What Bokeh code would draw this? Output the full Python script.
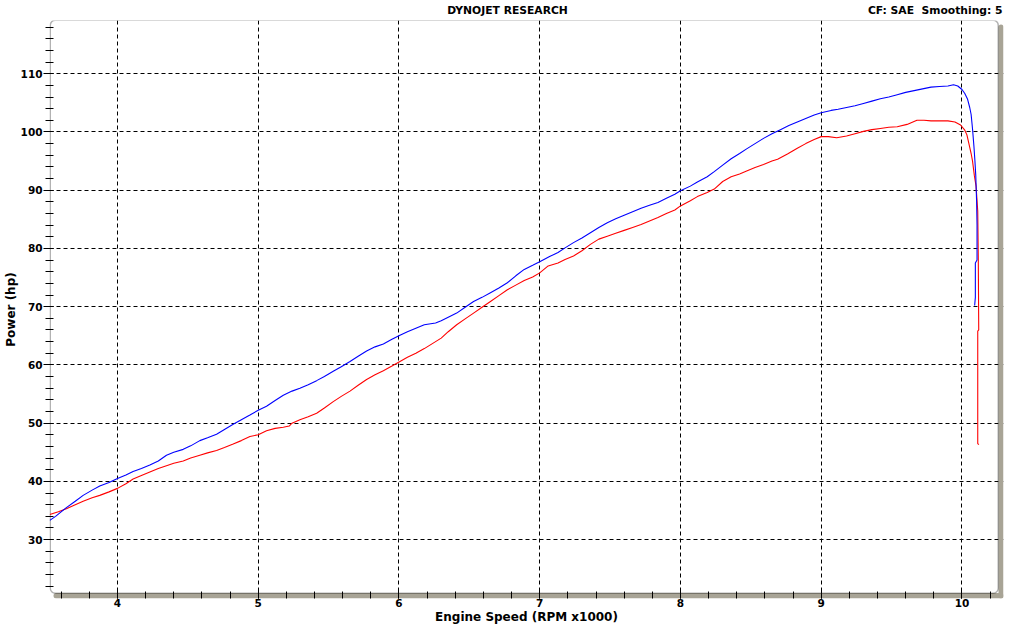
from bokeh.plotting import figure
from bokeh.models import (Range1d, SingleIntervalTicker, FixedTicker, BoxAnnotation,
                          ColumnDataSource, LinearAxis)
from bokeh.embed import file_html
from bokeh.resources import INLINE

# ---- data ----
blue_rpm = [3.519, 3.56, 3.637, 3.70, 3.756, 3.82, 3.874, 3.94, 4.0, 4.06, 4.111, 4.17, 4.23, 4.29,
            4.348, 4.40, 4.467, 4.52, 4.585, 4.64, 4.704, 4.76, 4.822, 4.88, 4.941, 5.0, 5.059, 5.12,
            5.178, 5.24, 5.296, 5.355, 5.415, 5.47, 5.533, 5.59, 5.652, 5.71, 5.77, 5.83, 5.889, 5.95,
            6.007, 6.06, 6.12, 6.18, 6.26, 6.30, 6.35, 6.41, 6.47, 6.53, 6.59, 6.65, 6.71, 6.77, 6.83,
            6.89, 6.95, 7.0, 7.07, 7.13, 7.18, 7.24, 7.30, 7.36, 7.42, 7.48, 7.54, 7.60, 7.66, 7.72,
            7.78, 7.84, 7.90, 7.96, 8.0, 8.07, 8.12, 8.19, 8.24, 8.30, 8.36, 8.42, 8.47, 8.53, 8.59,
            8.65, 8.71, 8.77, 8.83, 8.89, 8.95, 9.0, 9.07, 9.12, 9.18, 9.24, 9.30, 9.36, 9.42, 9.48,
            9.54, 9.60, 9.66, 9.72, 9.78, 9.84, 9.90, 9.94, 9.97, 10.0, 10.02, 10.04, 10.055, 10.065,
            10.075, 10.085, 10.092, 10.098, 10.104, 10.107, 10.107, 10.095, 10.095, 10.09]
blue_hp = [33.3, 34.0, 35.5, 36.6, 37.6, 38.5, 39.2, 39.8, 40.5, 41.1, 41.7, 42.2, 42.8, 43.5,
           44.5, 45.0, 45.5, 46.1, 47.0, 47.5, 48.1, 48.9, 49.8, 50.6, 51.4, 52.2, 52.9, 53.9,
           54.8, 55.5, 56.0, 56.6, 57.3, 58.0, 58.9, 59.7, 60.6, 61.5, 62.4, 63.1, 63.6, 64.4,
           65.1, 65.7, 66.3, 66.9, 67.2, 67.6, 68.2, 68.9, 69.9, 70.9, 71.6, 72.4, 73.2, 74.1, 75.3,
           76.4, 77.1, 77.7, 78.6, 79.3, 80.1, 81.0, 81.8, 82.7, 83.6, 84.4, 85.1, 85.7, 86.3, 86.9,
           87.4, 87.9, 88.6, 89.3, 89.9, 90.7, 91.4, 92.3, 93.2, 94.3, 95.4, 96.3, 97.1, 98.0, 98.9,
           99.7, 100.4, 101.1, 101.7, 102.3, 102.9, 103.3, 103.7, 103.9, 104.2, 104.5, 104.9, 105.3,
           105.7, 106.0, 106.4, 106.8, 107.1, 107.4, 107.7, 107.8, 107.9, 108.1, 107.9, 107.3, 106.6,
           105.6, 104.2, 103.0, 100.5, 97.5, 95.0, 92.5, 88.0, 84.0, 78.0, 77.5, 71.6, 70.2]

red_rpm = [3.519, 3.58, 3.637, 3.70, 3.756, 3.82, 3.874, 3.94, 4.0, 4.06, 4.111, 4.17, 4.23, 4.29,
           4.348, 4.40, 4.467, 4.52, 4.585, 4.64, 4.704, 4.76, 4.822, 4.88, 4.941, 5.0, 5.059, 5.12,
           5.178, 5.22, 5.24, 5.296, 5.355, 5.415, 5.47, 5.533, 5.59, 5.652, 5.71, 5.77, 5.83, 5.889,
           5.95, 6.007, 6.06, 6.12, 6.18, 6.24, 6.30, 6.35, 6.41, 6.47, 6.53, 6.59, 6.65, 6.71, 6.77,
           6.83, 6.89, 6.95, 7.0, 7.06, 7.13, 7.18, 7.24, 7.30, 7.36, 7.42, 7.48, 7.54, 7.60, 7.66,
           7.72, 7.78, 7.84, 7.90, 7.96, 8.0, 8.07, 8.12, 8.19, 8.24, 8.30, 8.36, 8.42, 8.47, 8.53,
           8.59, 8.65, 8.69, 8.76, 8.83, 8.89, 8.95, 9.0, 9.05, 9.11, 9.18, 9.24, 9.30, 9.36, 9.42,
           9.48, 9.54, 9.61, 9.68, 9.73, 9.78, 9.84, 9.90, 9.95, 9.99, 10.02, 10.035, 10.05, 10.065,
           10.075, 10.088, 10.10, 10.112, 10.116, 10.119, 10.112, 10.112, 10.12]
red_hp = [34.3, 34.8, 35.3, 36.0, 36.6, 37.2, 37.6, 38.2, 38.8, 39.6, 40.4, 41.0, 41.6, 42.2,
          42.7, 43.1, 43.5, 44.0, 44.5, 44.9, 45.3, 45.8, 46.4, 47.0, 47.7, 48.0, 48.7, 49.1,
          49.3, 49.5, 50.0, 50.6, 51.1, 51.7, 52.6, 53.7, 54.6, 55.5, 56.5, 57.5, 58.3, 59.0,
          59.8, 60.6, 61.3, 62.0, 62.8, 63.7, 64.6, 65.7, 66.9, 67.9, 68.9, 69.9, 70.9, 71.9, 72.9,
          73.7, 74.5, 75.1, 75.8, 77.0, 77.5, 78.1, 78.7, 79.6, 80.7, 81.6, 82.1, 82.6, 83.1, 83.6,
          84.1, 84.7, 85.3, 86.0, 86.6, 87.3, 88.2, 88.9, 89.6, 90.2, 91.5, 92.3, 92.8, 93.3, 93.9,
          94.4, 95.0, 95.3, 96.2, 97.2, 98.0, 98.7, 99.2, 99.2, 99.0, 99.3, 99.7, 100.1, 100.4, 100.6,
          100.8, 100.9, 101.3, 102.0, 102.0, 101.9, 101.9, 101.9, 101.7, 101.2, 100.3, 99.5, 97.9, 96.3,
          95.0, 92.5, 90.7, 86.4, 78.0, 66.0, 65.8, 46.5, 46.3]

y_major = [30, 40, 50, 60, 70, 80, 90, 100, 110]
y_minor = list(range(22, 120, 2))

title_text = "DYNOJET RESEARCH"
info_text = "CF: SAE\u00a0 Smoothing: 5"
x_label = "Engine Speed (RPM x1000)"
y_label = "Power (hp)"

FONT = "DejaVu Sans"
SHADOW = "#a8a496"

p = figure(width=1015, height=627, output_backend="svg", toolbar_location=None,
           x_range=Range1d(3.517, 10.295), y_range=Range1d(19.89, 119.14),
           min_border_left=49, min_border_right=12, min_border_top=19, min_border_bottom=29)
p.title.visible = False
p.outline_line_color = None
p.background_fill_color = "white"
p.border_fill_color = "white"

FW, FH = 954, 579   # frame size in px (frame includes the 5px shadow strip)

xt = SingleIntervalTicker(interval=1, num_minor_ticks=5)
yt = FixedTicker(ticks=y_major, minor_ticks=y_minor)
p.xaxis.ticker = xt
p.yaxis.ticker = yt
p.xgrid.ticker = xt
p.ygrid.ticker = yt

for g in (p.xgrid, p.ygrid):
    g.grid_line_color = "black"
    g.grid_line_dash = "4 3"
    g.grid_line_width = 1

# shadow strips (right and bottom) and the rounded black plot border
p.add_layout(BoxAnnotation(left=FW - 5, right=FW, bottom=0, top=FH - 5,
                           left_units="screen", right_units="screen",
                           top_units="screen", bottom_units="screen",
                           fill_color=SHADOW, fill_alpha=1, line_color=None,
                           border_radius=3, level="underlay"))
p.add_layout(BoxAnnotation(left=4, right=FW, bottom=0, top=5.5,
                           left_units="screen", right_units="screen",
                           top_units="screen", bottom_units="screen",
                           fill_color=SHADOW, fill_alpha=1, line_color=None,
                           border_radius=3, level="underlay"))
p.add_layout(BoxAnnotation(left=0.75, right=FW - 5.25, bottom=5.25, top=FH - 0.75,
                           left_units="screen", right_units="screen",
                           top_units="screen", bottom_units="screen",
                           fill_alpha=0, line_color="black",
                           line_width=1.5, border_radius=5, level="underlay"))

for ax in (p.xaxis, p.yaxis):
    ax.axis_line_color = None
    ax.major_tick_line_color = "black"
    ax.minor_tick_line_color = "black"
    ax.major_label_text_font = FONT
    ax.major_label_text_font_style = "bold"
    ax.major_label_text_font_size = "10.5px"
    ax.major_label_text_color = "black"
    ax.axis_label_text_font = FONT
    ax.axis_label_text_font_style = "bold"
    ax.axis_label_text_font_size = "12px"
    ax.axis_label_text_color = "black"

p.xaxis.axis_label = x_label
p.yaxis.axis_label = y_label

p.yaxis.major_tick_out = 6
p.yaxis.major_tick_in = 4
p.yaxis.minor_tick_out = 4
p.yaxis.minor_tick_in = 4
p.yaxis.major_label_standoff = 1
p.yaxis.axis_label_standoff = 0

p.xaxis.major_tick_out = 0
p.xaxis.major_tick_in = 8
p.xaxis.minor_tick_out = 0
p.xaxis.minor_tick_in = 7
p.xaxis.major_label_standoff = 0
p.xaxis.axis_label_standoff = 0

# top header texts, as labels of an axis above the frame
top_pos = [6.771, 9.81]
top_axis = LinearAxis(ticker=FixedTicker(ticks=top_pos, minor_ticks=[]),
                      major_label_overrides={top_pos[0]: title_text, top_pos[1]: info_text},
                      axis_line_color=None, major_tick_line_color=None, minor_tick_line_color=None,
                      major_tick_out=0, major_tick_in=0, major_label_standoff=4,
                      major_label_text_font=FONT, major_label_text_font_style="bold",
                      major_label_text_font_size="10.75px", major_label_text_color="black")
p.add_layout(top_axis, "above")

red_src = ColumnDataSource(dict(x=red_rpm, y=red_hp))
blue_src = ColumnDataSource(dict(x=blue_rpm, y=blue_hp))
p.line("x", "y", source=red_src, line_color="#ff0000", line_width=1.1)
p.line("x", "y", source=blue_src, line_color="#0000ff", line_width=1.1)

open("out.html", "w").write(file_html(p, INLINE))
